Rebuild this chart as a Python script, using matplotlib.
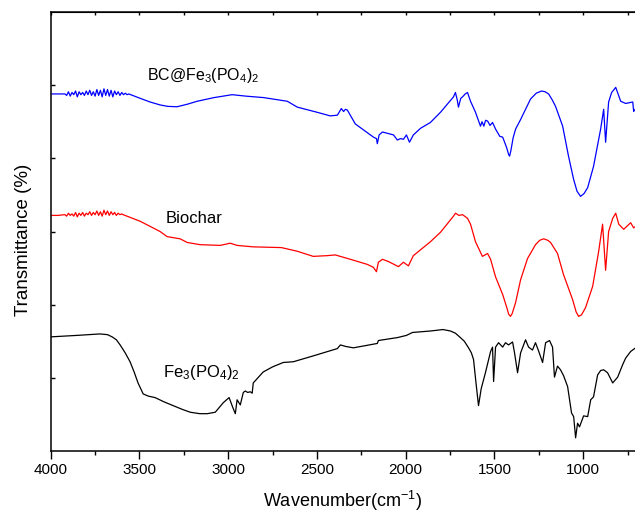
import matplotlib
matplotlib.use("Agg")
import matplotlib.pyplot as plt
import numpy as np

plt.rcParams['font.family'] = ['Liberation Sans', 'DejaVu Sans']
plt.rcParams['mathtext.fontset'] = 'custom'
plt.rcParams['mathtext.rm'] = 'Liberation Sans'
plt.rcParams['mathtext.it'] = 'Liberation Sans'

# ---- data (wavenumber, relative transmittance in stacked units) ----
bc_wn = [4000, 3960, 3920, 3910, 3900, 3890, 3880, 3870, 3860, 3850, 3840, 3830, 3820,
         3810, 3800, 3790, 3780, 3770, 3760, 3750, 3740, 3730, 3720, 3710, 3700, 3690,
         3680, 3670, 3660, 3650, 3640, 3630, 3620, 3610, 3600, 3590, 3580, 3570, 3560,
         3496, 3440, 3384, 3340, 3288, 3230, 3175, 3080, 2978, 2900, 2800, 2667, 2611,
         2500, 2425, 2385, 2363, 2350, 2340, 2329, 2284, 2182, 2165, 2160, 2150, 2131,
         2069, 2047, 2030, 2013, 1996, 1979, 1957, 1917, 1861, 1804, 1731, 1720, 1710,
         1703, 1690, 1680, 1665, 1652, 1635, 1607, 1579, 1570, 1560, 1550, 1539, 1525,
         1511, 1494, 1480, 1470, 1454, 1432, 1420, 1415, 1408, 1395, 1381, 1353, 1297,
         1265, 1235, 1215, 1195, 1175, 1156, 1116, 1083, 1054, 1035, 1015, 995, 975, 942,
         902, 885, 874, 857, 840, 817, 789, 761, 721, 716, 705]
bc_val = [4.88, 4.88, 4.88, 4.86, 4.91, 4.85, 4.90, 4.87, 4.92, 4.84, 4.91, 4.87, 4.90,
          4.86, 4.92, 4.87, 4.93, 4.86, 4.91, 4.85, 4.94, 4.86, 4.93, 4.84, 4.95, 4.86,
          4.94, 4.85, 4.93, 4.84, 4.92, 4.87, 4.91, 4.86, 4.90, 4.87, 4.89, 4.87, 4.88,
          4.82, 4.77, 4.73, 4.71, 4.705, 4.74, 4.78, 4.83, 4.87, 4.85, 4.83, 4.78, 4.70,
          4.63, 4.58, 4.59, 4.68, 4.64, 4.67, 4.66, 4.47, 4.29, 4.27, 4.20, 4.32, 4.36,
          4.32, 4.25, 4.27, 4.26, 4.32, 4.22, 4.32, 4.41, 4.49, 4.63, 4.84, 4.90, 4.80,
          4.70, 4.82, 4.84, 4.88, 4.90, 4.78, 4.63, 4.44, 4.50, 4.44, 4.52, 4.51, 4.45,
          4.49, 4.40, 4.34, 4.30, 4.29, 4.15, 4.05, 4.03, 4.10, 4.28, 4.40, 4.53, 4.81,
          4.89, 4.92, 4.91, 4.88, 4.80, 4.71, 4.44, 4.03, 3.71, 3.55, 3.48, 3.52, 3.60,
          3.89, 4.40, 4.67, 4.22, 4.77, 4.90, 4.97, 4.78, 4.75, 4.77, 4.64, 4.68]

bio_wn = [4000, 3960, 3920, 3910, 3900, 3890, 3880, 3870, 3860, 3850, 3840, 3830, 3820,
          3810, 3800, 3790, 3780, 3770, 3760, 3750, 3740, 3730, 3720, 3710, 3700, 3690,
          3680, 3670, 3660, 3650, 3640, 3630, 3620, 3610, 3600, 3592, 3496, 3384, 3344,
          3271, 3231, 3158, 3045, 2989, 2950, 2859, 2700, 2611, 2521, 2442, 2397, 2312,
          2216, 2182, 2165, 2154, 2131, 2098, 2041, 2013, 1985, 1957, 1861, 1804, 1731,
          1720, 1700, 1680, 1652, 1635, 1607, 1568, 1539, 1522, 1494, 1454, 1432, 1420,
          1410, 1400, 1381, 1353, 1314, 1269, 1245, 1223, 1200, 1184, 1145, 1111, 1060,
          1040, 1026, 1010, 987, 947, 913, 891, 874, 857, 834, 817, 800, 772, 733, 716, 705]
bio_val = [3.22, 3.22, 3.23, 3.21, 3.25, 3.22, 3.24, 3.21, 3.26, 3.20, 3.25, 3.22, 3.26,
           3.21, 3.25, 3.23, 3.27, 3.22, 3.26, 3.23, 3.28, 3.22, 3.27, 3.21, 3.29, 3.23,
           3.28, 3.22, 3.27, 3.23, 3.26, 3.22, 3.25, 3.23, 3.24, 3.23, 3.14, 3.00, 2.93,
           2.90, 2.85, 2.82, 2.81, 2.84, 2.81, 2.79, 2.78, 2.73, 2.66, 2.67, 2.68, 2.62,
           2.55, 2.51, 2.45, 2.58, 2.62, 2.59, 2.52, 2.58, 2.53, 2.67, 2.86, 2.99, 3.21,
           3.25, 3.22, 3.23, 3.18, 3.10, 2.86, 2.66, 2.70, 2.62, 2.38, 2.14, 1.97, 1.87,
           1.84, 1.88, 2.03, 2.34, 2.63, 2.82, 2.88, 2.90, 2.88, 2.85, 2.70, 2.41, 2.07,
           1.90, 1.84, 1.86, 1.96, 2.25, 2.73, 3.10, 2.47, 3.00, 3.18, 3.25, 3.10, 3.03,
           3.12, 3.05, 3.07]

fe_wn = [4000, 3852, 3722, 3680, 3654, 3630, 3609, 3580, 3553, 3530, 3508, 3479, 3450,
         3412, 3360, 3310, 3260, 3214, 3160, 3118, 3073, 3028, 2995, 2975, 2960, 2950,
         2932, 2915, 2904, 2890, 2876, 2865, 2859, 2803, 2750, 2690, 2633, 2521, 2385,
         2368, 2340, 2295, 2160, 2154, 2047, 1996, 1962, 1861, 1790, 1748, 1720, 1692,
         1670, 1646, 1630, 1618, 1605, 1590, 1575, 1551, 1522, 1511, 1505, 1494, 1477,
         1454, 1438, 1421, 1398, 1387, 1370, 1353, 1325, 1308, 1286, 1269, 1252, 1229,
         1212, 1190, 1173, 1162, 1145, 1128, 1111, 1088, 1066, 1054, 1043, 1032, 1021,
         998, 975, 958, 942, 919, 902, 885, 863, 834, 806, 778, 761, 733, 705]
fe_val = [1.56, 1.58, 1.60, 1.59, 1.56, 1.52, 1.45, 1.34, 1.22, 1.08, 0.93, 0.78, 0.75,
          0.73, 0.67, 0.62, 0.57, 0.53, 0.51, 0.51, 0.53, 0.66, 0.73, 0.60, 0.51, 0.70,
          0.63, 0.80, 0.82, 0.80, 0.81, 0.79, 0.93, 1.08, 1.15, 1.21, 1.22, 1.30, 1.40,
          1.45, 1.43, 1.41, 1.47, 1.51, 1.55, 1.58, 1.62, 1.64, 1.66, 1.64, 1.61, 1.55,
          1.50, 1.41, 1.34, 1.25, 0.95, 0.62, 0.85, 1.07, 1.36, 1.42, 0.95, 1.42, 1.48,
          1.42, 1.48, 1.45, 1.49, 1.34, 1.07, 1.34, 1.52, 1.42, 1.38, 1.48, 1.37, 1.21,
          1.48, 1.51, 1.42, 1.01, 1.16, 1.11, 1.03, 0.88, 0.52, 0.47, 0.18, 0.38, 0.33,
          0.48, 0.47, 0.70, 0.74, 1.04, 1.10, 1.11, 1.07, 0.93, 1.01, 1.18, 1.27, 1.36,
          1.41]

series = [(bc_wn, bc_val, '#0000FF'), (bio_wn, bio_val, '#FF0000'), (fe_wn, fe_val, '#000000')]

x_ticks = [4000, 3500, 3000, 2500, 2000, 1500, 1000]
x_tick_labels = ['4000', '3500', '3000', '2500', '2000', '1500', '1000']

W, H = 635, 513
fig = plt.figure(figsize=(W / 100, H / 100), dpi=100)
ax = fig.add_axes([50.7 / W, (H - 451) / H, (636.5 - 50.7) / W, (451 - 12) / H])

for wn, val, col in series:
    ax.plot(wn, val, color=col, lw=0.9)

ax.set_xlim(4000, 700)
ax.set_ylim(0, 6.0)
ax.set_xticks(x_ticks)
ax.set_xticklabels(x_tick_labels, fontsize=11)
ax.set_xticks(np.arange(3750, 700, -500), minor=True)
ax.set_yticks([1, 2, 3, 4, 5])
ax.set_yticklabels([])

ax.tick_params(axis='x', which='major', direction='out', length=5.8, width=1.0, pad=2.5)
ax.tick_params(axis='x', which='minor', direction='out', length=3.0, width=1.0)
ax.tick_params(axis='y', which='major', direction='in', length=3.0, width=1.0)
ax.tick_params(top=False, right=False)
for s in ax.spines.values():
    s.set_linewidth(1.1)

# top axis short inward ticks
sec = ax.secondary_xaxis('top')
sec.set_xticks(x_ticks)
sec.set_xticklabels([])
sec.set_xticks(np.arange(3750, 700, -500), minor=True)
sec.tick_params(which='both', direction='in', length=2.0, width=1.0)

fig.text(342 / W, (H - 507) / H, r'Wavenumber(cm$^{-1}$)', ha='center', va='baseline', fontsize=13)
fig.text(24 / W, (H - 240) / H, 'Transmittance (%)', ha='center', va='center',
         rotation=90, fontsize=13.5)

ax.text(3460, 5.13, r'BC@Fe$_3$(PO$_4$)$_2$', fontsize=11.5, va='center', ha='left')
ax.text(3350, 3.18, 'Biochar', fontsize=12, va='center', ha='left')
ax.text(3370, 1.07, r'Fe$_3$(PO$_4$)$_2$', fontsize=12, va='center', ha='left')

fig.savefig('out.png', dpi=100)
